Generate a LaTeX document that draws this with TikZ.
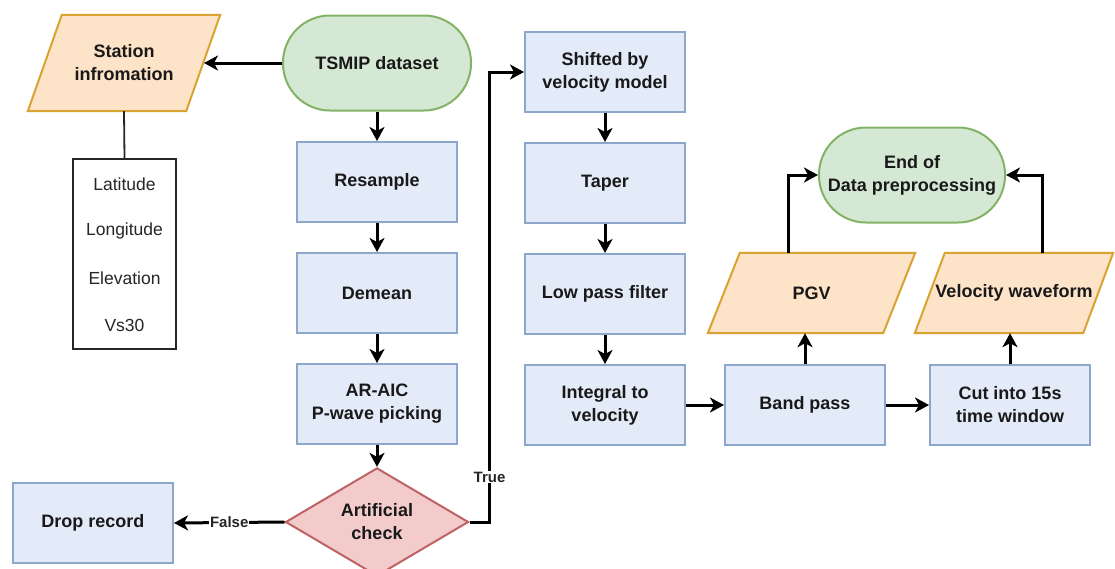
\documentclass[tikz,border=0pt]{standalone}
\usepackage{fontspec}
\setmainfont{Liberation Sans}
\usetikzlibrary{shapes.geometric,arrows.meta}

\definecolor{procfill}{HTML}{E3EBF8}
\definecolor{procline}{HTML}{8DA6CC}
\definecolor{termfill}{HTML}{D5E8D4}
\definecolor{termline}{HTML}{82B366}
\definecolor{iofill}{HTML}{FDE3C8}
\definecolor{ioline}{HTML}{D9A331}
\definecolor{decfill}{HTML}{F3CBCB}
\definecolor{decline}{HTML}{BD6363}

\begin{document}
\begin{tikzpicture}[x=1pt,y=-1pt,
  txt/.style={font=\bfseries\fontsize{18}{23}\selectfont, align=center, text=black!90},
  proc/.style={txt, draw=procline, fill=procfill, line width=2pt,
    minimum width=160pt, minimum height=80pt, inner sep=0pt},
  term/.style={txt, draw=termline, fill=termfill, line width=2pt,
    rounded corners=47pt, minimum width=188pt, minimum height=95pt, inner sep=0pt},
  iobox/.style={txt, minimum height=80pt, inner sep=0pt},
  ioshape/.style={draw=ioline, fill=iofill, line width=2pt, line join=miter},
  dec/.style={txt, diamond, draw=decline, fill=decfill, line width=2pt,
    minimum width=183pt, minimum height=92pt, inner sep=0pt},
  attr/.style={draw=black!85, fill=white, line width=1.8pt,
    minimum width=103pt, minimum height=190pt},
  attrtxt/.style={font=\fontsize{17.5}{22}\selectfont, text=black!85},
  arr/.style={draw=black, line width=3pt, -{Stealth[length=14pt,width=15pt,inset=4pt]}},
  plain/.style={draw=black!85, line width=1.8pt},
  lbl/.style={font=\bfseries\fontsize{15}{17}\selectfont, fill=white, inner sep=1pt, text=black!85}
]
\useasboundingbox (0,0) rectangle (1115,568);

% ---- station information block
\node[iobox, minimum width=192pt, minimum height=96pt] (st) at (124,63) {};
\draw[ioshape] ([xshift=34pt]st.north west) -- (st.north east)
  -- ([xshift=-34pt]st.south east) -- (st.south west) -- cycle;
\node[txt] at (st) {Station\\infromation};
\coordinate (stR) at (204,63);

\node[attr] (attrs) at (124.5,254) {};
\node[attrtxt] (la) at (124.5,184) {Latitude};
\node[attrtxt] (lo) at (124.5,231) {Longitude};
\node[attrtxt] (el) at (124.5,278) {Elevation};
\node[attrtxt] (vs) at (124.5,325) {Vs30};
\draw[plain] (st.south) -- (attrs.north);

% ---- main column
\node[term] (ds) at (377,63) {TSMIP dataset};
\node[proc] (rs) at (377,182) {Resample};
\node[proc] (dm) at (377,293) {Demean};
\node[proc] (ar) at (377,404) {AR-AIC\\P-wave picking};
\node[dec]  (ck) at (377,522) {Artificial\\check};
\node[proc] (dr) at (93,523) {Drop record};

% ---- second column
\node[proc] (sh) at (605,72)  {Shifted by\\velocity model};
\node[proc] (tp) at (605,183) {Taper};
\node[proc] (lp) at (605,294) {Low pass filter};
\node[proc] (iv) at (605,405) {Integral to\\velocity};

% ---- right part
\node[proc] (bp) at (805,405)  {Band pass};
\node[proc] (cw) at (1010,405) {Cut into 15s\\time window};
\node[term, minimum width=186pt] (en) at (912,175) {End of\\Data preprocessing};

\node[iobox, minimum width=207pt] (pg) at (811.5,293) {};
\draw[ioshape] ([xshift=32pt]pg.north west) -- (pg.north east)
  -- ([xshift=-32pt]pg.south east) -- (pg.south west) -- cycle;
\node[txt] at (pg) {PGV};

\node[iobox, minimum width=198pt] (vw) at (1014,293) {};
\draw[ioshape] ([xshift=30pt]vw.north west) -- (vw.north east)
  -- ([xshift=-30pt]vw.south east) -- (vw.south west) -- cycle;
\node[txt] at (vw) {Velocity waveform};

% ---- connectors
\draw[arr] (ds.west) -- (stR);
\draw[arr] (ds.south) -- (rs.north);
\draw[arr] (rs) -- (dm);
\draw[arr] (dm) -- (ar);
\draw[arr] (ar.south) -- (ck.north);
\draw[arr] (ck.west) -- node[lbl, pos=0.5] {False} (dr.east);
\draw[arr] (ck.east) -- ++(20,0) |- node[lbl, pos=0.05] {True} (sh.west);
\draw[arr] (sh) -- (tp);
\draw[arr] (tp) -- (lp);
\draw[arr] (lp) -- (iv);
\draw[arr] (iv) -- (bp);
\draw[arr] (bp) -- (cw);
\draw[arr] (bp.north) -- (bp.north |- pg.south);
\draw[arr] (cw.north) -- (cw.north |- vw.south);
\draw[arr] (788,253) |- (en.west);
\draw[arr] (1042,253) |- (en.east);
\end{tikzpicture}
\end{document}
